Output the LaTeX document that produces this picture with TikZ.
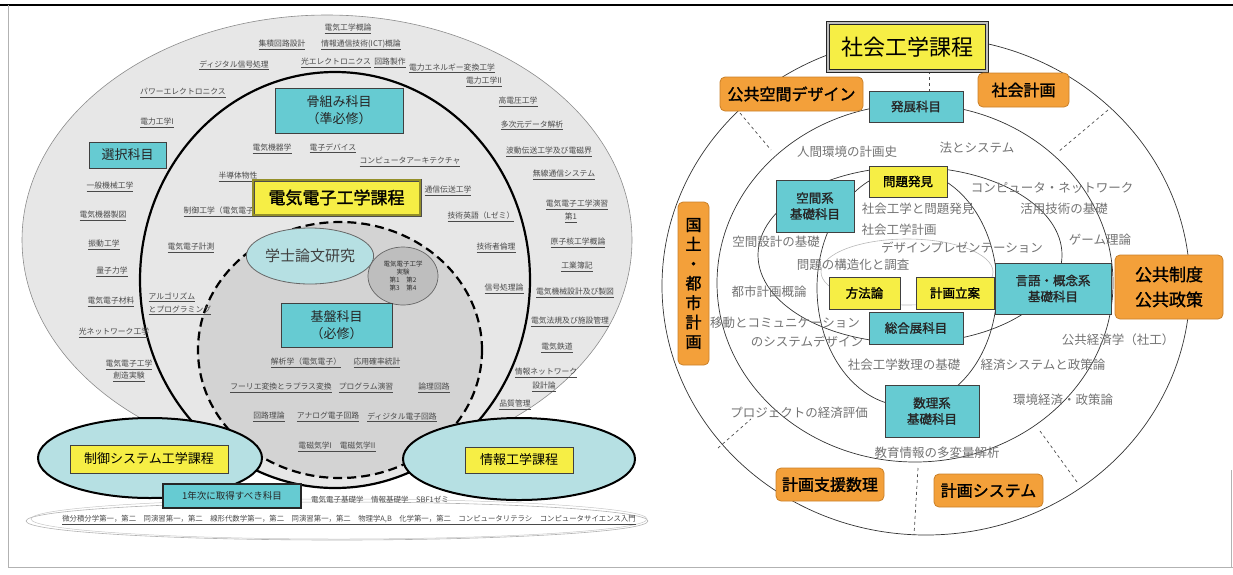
\documentclass[tikz,border=0pt]{standalone}
\usepackage{fontspec}
\setmainfont{Noto Sans CJK JP}
\newfontfamily\cjkbold{Noto Sans CJK JP}[FakeBold=1.5]
\usetikzlibrary{positioning, shapes.geometric}
\definecolor{ringgray}{HTML}{E7E7E7}
\definecolor{coregray}{HTML}{D3D3D3}
\definecolor{labgray}{HTML}{BEBEBE}
\definecolor{paleblue}{HTML}{B6E0E3}
\definecolor{tealfill}{HTML}{66CBD2}
\definecolor{boxyellow}{HTML}{F6EE45}
\definecolor{boxorange}{HTML}{F3A03A}
\definecolor{orangeline}{HTML}{C98029}
\definecolor{txtgray}{HTML}{4A4A4A}

\begin{document}
\begin{tikzpicture}[x=1pt, y=-1pt,
    crs/.style={font=\fontsize{7.8}{9}\selectfont, text=txtgray, inner sep=0.5pt},
    plan/.style={font=\fontsize{12.5}{14}\selectfont, text=black!55, inner sep=0pt},
    tealbox/.style={draw=black!75, line width=0.9pt, fill=tealfill, inner sep=0pt, align=center, text=black!85, font=\cjkbold\fontsize{12.5}{16}\selectfont},
    yelbox/.style={draw=black!75, line width=0.9pt, fill=boxyellow, inner sep=0pt, align=center, font=\cjkbold\fontsize{12.5}{16}\selectfont},
    orgbox/.style={draw=orangeline, line width=0.8pt, fill=boxorange, rounded corners=5pt, inner sep=0pt, align=center, font=\cjkbold\fontsize{16}{20}\selectfont},
    blueell/.style={ellipse, draw=black, line width=2pt, fill=paleblue, inner sep=0pt},
    planring/.style={draw=black!80, line width=0.7pt},
    cutline/.style={draw=black!70, line width=0.7pt, dashed}]
    \useasboundingbox (0,0) rectangle (1233,574);
    \draw[line width=1.3pt] (0,5) -- (1233,5);
    \draw[gray!60, line width=0.6pt] (8,5) -- (8,567) -- (1233,567);
    \draw[gray!60, line width=0.6pt] (1231,470) -- (1231,567);

    \draw[draw=black!45, fill=ringgray, line width=0.6pt] (327,240) ellipse [x radius=305, y radius=225];
    \draw[line width=2.2pt, fill=ringgray] (335,280) ellipse [x radius=195, y radius=208];
    \draw[line width=2.2pt, dash pattern=on 9pt off 5pt, fill=coregray] (340,350) ellipse [x radius=142, y radius=128];

    \foreach \x/\y/\t [count=\i] in {348/29/{電気工学概論}, 282/45/{集積回路設計}, 361/45/{情報通信技術(ICT)概論},
        234/65/{ディジタル信号処理}, 336/63/{光エレクトロニクス}, 390/63/{回路製作}, 452/68/{電力エネルギー変換工学},
        183/93/{パワーエレクトロニクス}, 484/82/{電力工学II}, 518/102/{高電圧工学}, 532/125/{多次元データ解析},
        157/123/{電力工学I}, 549/152/{波動伝送工学及び電磁界}, 564/175/{無線通信システム}, 577/205/{電気電子工学演習},
        571/218/{第1}, 578/243/{原子核工学概論}, 577/267/{工業簿記}, 575/293/{電気機械設計及び製図},
        570/322/{電気法規及び施設管理}, 557/348/{電気鉄道}, 546/373/{情報ネットワーク}, 544/387/{設計論},
        515/405/{品質管理}, 110/187/{一般機械工学}, 103/216/{電気機器製図}, 104/245/{振動工学},
        112/272/{量子力学}, 111/302/{電気電子材料}, 114/333/{光ネットワーク工学}, 129/365/{電気電子工学}, 129/377/{創造実験}}
    \node[crs] (out\i) at (\x,\y) {\underline{\t}};

    \foreach \x/\y/\t [count=\i] in {272/149/{電気機器学}, 333/148/{電子デバイス}, 410/162/{コンピュータアーキテクチャ},
        238/177/{半導体物性}, 448/191/{通信伝送工学}, 481/217/{技術英語（Lゼミ）}, 496/248/{技術者倫理},
        504/289/{信号処理論}, 191/248/{電気電子計測}}
    \node[crs] (mid\i) at (\x,\y) {\underline{\t}};
    \node[crs, anchor=west] (ctrlcrs) at (183,212) {\underline{制御工学（電気電子）}};
    \node[crs, anchor=west] (algo) at (148,297) {\underline{アルゴリズム}};
    \node[crs, anchor=west] (prog) at (148,310) {\underline{とプログラミング}};

    \foreach \x/\y/\t [count=\i] in {306/363/{解析学（電気電子）}, 377/363/{応用確率統計}, 281/388/{フーリエ変換とラプラス変換},
        366/388/{プログラム演習}, 434/388/{論理回路}, 269/417/{回路理論}, 328/417/{アナログ電子回路},
        402/417/{ディジタル電子回路}, 337/447/{電磁気学I　電磁気学II}}
    \node[crs] (inn\i) at (\x,\y) {\underline{\t}};

    \node[tealbox, minimum width=128pt, minimum height=45pt, font=\fontsize{13}{17}\selectfont] (hone) at (339,110.5) {骨組み科目\\（準必修）};
    \node[yelbox, draw=black!70, double=boxyellow!60!black, double distance=1.2pt, minimum width=167pt, minimum height=35pt, font=\cjkbold\fontsize{17}{20}\selectfont] (denki) at (336.5,197.5) {電気電子工学課程};
    \node[tealbox, minimum width=77pt, minimum height=26pt, font=\fontsize{13}{16}\selectfont] (sentaku) at (127.5,155) {選択科目};
    \node[ellipse, draw=black!60, line width=0.8pt, fill=paleblue, minimum width=110pt, minimum height=56pt, inner sep=0pt, text=black!75, font=\fontsize{15}{18}\selectfont] (thesis) at (310,256) {学士論文研究};
    \node[ellipse, draw=black!60, line width=0.7pt, fill=labgray, minimum width=70pt, minimum height=58pt, inner sep=0pt, align=center, text=black!80, font=\fontsize{6.5}{8}\selectfont] (lab) at (403,276) {電気電子工学\\実験\\第1　第2\\第3　第4};
    \node[tealbox, minimum width=111pt, minimum height=44pt, font=\fontsize{13}{17}\selectfont] (kiban) at (336.5,325) {基盤科目\\（必修）};

    \draw[gray!60, line width=0.6pt] (337,521) ellipse [x radius=311, y radius=19];
    \draw[gray!45, line width=0.5pt] (339,519) ellipse [x radius=308, y radius=20];
    \node[blueell, minimum width=224pt, minimum height=80pt] (ctrlell) at (150,458) {};
    \node[blueell, minimum width=232pt, minimum height=82pt] (infoell) at (519,459) {};
    \node[yelbox, minimum width=158pt, minimum height=28pt, font=\fontsize{13}{16}\selectfont] (seigyo) at (149,459) {制御システム工学課程};
    \node[yelbox, minimum width=108pt, minimum height=26pt, font=\fontsize{13}{16}\selectfont] (joho) at (519,460) {情報工学課程};
    \node[tealbox, line width=1.6pt, draw=black!85, minimum width=138pt, minimum height=24pt, font=\fontsize{9.5}{11}\selectfont] (ichinen) at (232,496) {1年次に取得すべき科目};
    \node[crs, font=\fontsize{7.5}{9}\selectfont] (kiso) at (380,500) {電気電子基礎学　情報基礎学　SBF1ゼミ};
    \node[crs, font=\fontsize{7.4}{9}\selectfont] (common) at (349,520) {\underline{微分積分学第一，第二　同演習第一，第二　線形代数学第一，第二　同演習第一，第二　物理学A,B　化学第一，第二　コンピュータリテラシ　コンピュータサイエンス入門}};

    \draw[planring] (926,286) ellipse [x radius=264, y radius=249];
    \draw[planring] (915,283) ellipse [x radius=198, y radius=179];
    \draw[planring] (910,255) ellipse [x radius=152, y radius=88];
    \draw[planring] (907,288) ellipse [x radius=90, y radius=118];
    \draw[gray!55, line width=0.6pt] (907,272) ellipse [x radius=86, y radius=33];

    \coordinate (cutA1) at (929,71);   \coordinate (cutA2) at (929,91);
    \coordinate (cutB1) at (740,113);  \coordinate (cutB2) at (771,150);
    \coordinate (cutC1) at (1108,110); \coordinate (cutC2) at (1058,152);
    \coordinate (cutD1) at (718,448);  \coordinate (cutD2) at (751,419);
    \coordinate (cutE1) at (1040,431); \coordinate (cutE2) at (1077,482);
    \coordinate (cutF1) at (918,468);  \coordinate (cutF2) at (914,535);
    \foreach \c in {A,B,C,D,E,F}
    \draw[cutline] (cut\c1) -- (cut\c2);

    \foreach \x/\y/\t [count=\i] in {847/152/{人間環境の計画史}, 977/148/{法とシステム}, 1052/188/{コンピュータ・ネットワーク},
        1064/209/{活用技術の基礎}, 918/209/{社会工学と問題発見}, 899/230/{社会工学計画}, 776/242/{空間設計の基礎},
        962/248/{デザインプレゼンテーション}, 1100/240/{ゲーム理論}, 853/265/{問題の構造化と調査},
        769/292/{都市計画概論}, 785/323/{移動とコミュニケーション}, 807/342/{のシステムデザイン},
        1118/340/{公共経済学（社工）}, 904/365/{社会工学数理の基礎}, 1043/365/{経済システムと政策論},
        1063/400/{環境経済・政策論}, 799/413/{プロジェクトの経済評価}, 937/453/{教育情報の多変量解析}}
    \node[plan] (pl\i) at (\x,\y) {\t};

    \node[yelbox, draw=black!85, line width=0.8pt, double=gray!50, double distance=2.4pt, minimum width=159pt, minimum height=48pt, font=\fontsize{22}{26}\selectfont] (shako) at (907.5,47) {社会工学課程};
    \node[orgbox, minimum width=143pt, minimum height=34pt] (kukan) at (791.5,94) {公共空間デザイン};
    \node[orgbox, minimum width=91pt, minimum height=34pt] (shakai) at (1023.5,90) {社会計画};
    \node[orgbox, minimum width=31pt, minimum height=163pt, font=\cjkbold\fontsize{16}{19.5}\selectfont] (kokudo) at (693.5,283.5) {国\\土\\・\\都\\市\\計\\画};
    \node[orgbox, minimum width=108pt, minimum height=64pt, font=\cjkbold\fontsize{17}{25}\selectfont] (kokyo) at (1169,287) {公共制度\\公共政策};
    \node[orgbox, minimum width=108pt, minimum height=33pt] (shien) at (830,484.5) {計画支援数理};
    \node[orgbox, minimum width=109pt, minimum height=33pt] (keikaku) at (988.5,490.5) {計画システム};

    \node[tealbox, minimum width=94pt, minimum height=31pt] (hatten) at (916,106.5) {発展科目};
    \node[tealbox, minimum width=78pt, minimum height=52pt] (kukankei) at (815,206) {空間系\\基礎科目};
    \node[yelbox, minimum width=78pt, minimum height=31pt] (mondai) at (908,181.5) {問題発見};
    \node[tealbox, minimum width=116pt, minimum height=51pt] (gengo) at (1053,288.5) {言語・概念系\\基礎科目};
    \node[yelbox, minimum width=71pt, minimum height=32pt] (hoho) at (864.5,293) {方法論};
    \node[yelbox, minimum width=78pt, minimum height=32pt] (ritsuan) at (955,293) {計画立案};
    \node[tealbox, minimum width=94pt, minimum height=32pt] (sogo) at (916,328) {総合展科目};
    \node[tealbox, minimum width=94pt, minimum height=52pt] (suri) at (932,411) {数理系\\基礎科目};
\end{tikzpicture}
\end{document}
